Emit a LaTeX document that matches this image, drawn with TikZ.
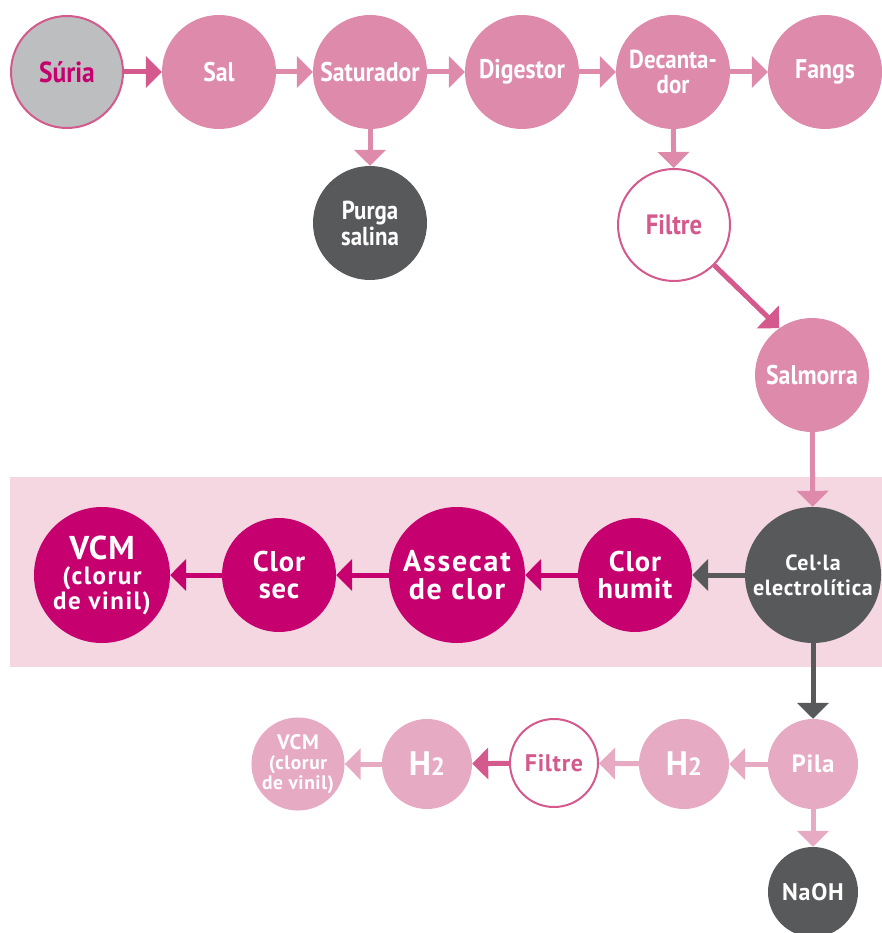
\documentclass[tikz,border=0pt]{standalone}
\usepackage{fontspec}
\newfontfamily\lf[FakeStretch=0.88]{PT Sans}
\newfontfamily\lw[LetterSpace=3]{PT Sans}
\newfontfamily\lww[LetterSpace=6]{PT Sans}
\usetikzlibrary{arrows.meta}
\definecolor{pinkA}{HTML}{DD8AAB}
\definecolor{pinkB}{HTML}{E6AAC3}
\definecolor{pinkD}{HTML}{D4598D}
\definecolor{mag}{HTML}{C6006F}
\definecolor{dgray}{HTML}{58595B}
\definecolor{band}{HTML}{F4D7E1}
\definecolor{sgray}{HTML}{BDBEC0}
\tikzset{
  x=1pt, y=-1pt,
  circ/.style={circle, inner sep=0pt, align=center, text=white,
    font=\lf\bfseries\fontsize{27}{24}\selectfont},
  big/.style={circ, minimum size=136pt},
  mid/.style={circ, minimum size=114pt},
  sml/.style={circ, minimum size=90pt},
  arr/.style={line width=5pt, -{Triangle[width=31pt,length=16pt]}},
}
\begin{document}
\begin{tikzpicture}
\useasboundingbox (0,0) rectangle (882,933);
\fill[band] (10,477) rectangle (882,667);
% top row
\node[mid, fill=sgray, draw=pinkD, line width=2pt, minimum size=112pt, text=mag, font=\lf\bfseries\fontsize{29}{24}\selectfont] (suria) at (67,72) {Súria};
\node[mid, fill=pinkA] (sal) at (219,72) {Sal};
\node[mid, fill=pinkA] (sat) at (370,72) {Saturador};
\node[mid, fill=pinkA] (dig) at (522,72) {Digestor};
\node[mid, fill=pinkA, font=\lf\bfseries\fontsize{26}{25}\selectfont] (dec) at (673,72) {Decanta-\\dor};
\node[mid, fill=pinkA] (fan) at (825,72) {Fangs};
\node[mid, fill=dgray, font=\lf\bfseries\fontsize{26}{26}\selectfont] (pur) at (370,223) {Purga\\salina};
\node[mid, fill=white, draw=pinkD, line width=2pt, minimum size=112pt, text=pinkD, font=\lf\bfseries\fontsize{28}{24}\selectfont] (fil1) at (674,225) {Filtre};
\node[mid, fill=pinkA] (salm) at (812,375) {Salmorra};
% band row
\node[big, fill=dgray, font=\lw\bfseries\fontsize{22}{25}\selectfont] (cel) at (813,575) {Cel·la\\electrolítica};
\node[mid, fill=mag, font=\lw\bfseries\fontsize{28.5}{27}\selectfont] (hum) at (635,575) {Clor\\humit};
\node[big, fill=mag, font=\lww\bfseries\fontsize{30}{28}\selectfont] (ass) at (457,575) {Assecat\\de clor};
\node[mid, fill=mag, font=\lw\bfseries\fontsize{28.5}{27}\selectfont] (sec) at (279,575) {Clor\\sec};
\node[big, fill=mag, font=\lww\bfseries\fontsize{25}{25}\selectfont] (vcm) at (102,575) {{\lw\fontsize{33}{25}\selectfont VCM}\\(clorur\\de vinil)};
% bottom row
\node[sml, fill=pinkB, font=\lw\bfseries\fontsize{25}{24}\selectfont] (pila) at (813,764) {Pila};
\node[sml, fill=pinkB, font=\lw\bfseries\fontsize{25}{24}\selectfont] (h2a) at (684,764) {{\fontsize{34}{34}\selectfont H}{\fontsize{25}{25}\selectfont 2}};
\node[sml, fill=white, draw=pinkD, line width=2pt, minimum size=88pt, text=pinkD, font=\lw\bfseries\fontsize{24}{24}\selectfont] (fil2) at (554,763) {Filtre};
\node[sml, fill=pinkB, font=\lw\bfseries\fontsize{25}{24}\selectfont] (h2b) at (427,764) {{\fontsize{34}{34}\selectfont H}{\fontsize{25}{25}\selectfont 2}};
\node[sml, fill=pinkB, font=\lw\bfseries\fontsize{19.5}{20}\selectfont] (vcm2) at (298,764) {{\fontsize{21}{20}\selectfont VCM}\\(clorur\\de vinil)};
\node[sml, fill=dgray, font=\lw\bfseries\fontsize{24}{24}\selectfont] (naoh) at (813,892) {NaOH};
% arrows
\draw[arr, pinkD] (suria) -- (sal);
\draw[arr, pinkA] (sal) -- (sat);
\draw[arr, pinkA] (sat) -- (dig);
\draw[arr, pinkA] (dig) -- (dec);
\draw[arr, pinkA] (dec) -- (fan);
\draw[arr, pinkA] (sat) -- (pur);
\draw[arr, pinkA] (dec) -- (fil1);
\draw[arr, pinkD] (fil1.-45) -- (salm.125);
\draw[arr, pinkA] (salm) -- (cel);
\draw[arr, dgray] (cel) -- (hum);
\draw[arr, mag] (hum) -- (ass);
\draw[arr, mag] (ass) -- (sec);
\draw[arr, mag] (sec) -- (vcm);
\draw[arr, dgray] (cel) -- (pila);
\draw[arr, pinkB] (pila) -- (h2a);
\draw[arr, pinkB] (h2a) -- (fil2);
\draw[arr, pinkD] (fil2) -- (h2b);
\draw[arr, pinkB] (h2b) -- (vcm2);
\draw[arr, pinkB] (pila) -- (naoh);
\end{tikzpicture}
\end{document}
